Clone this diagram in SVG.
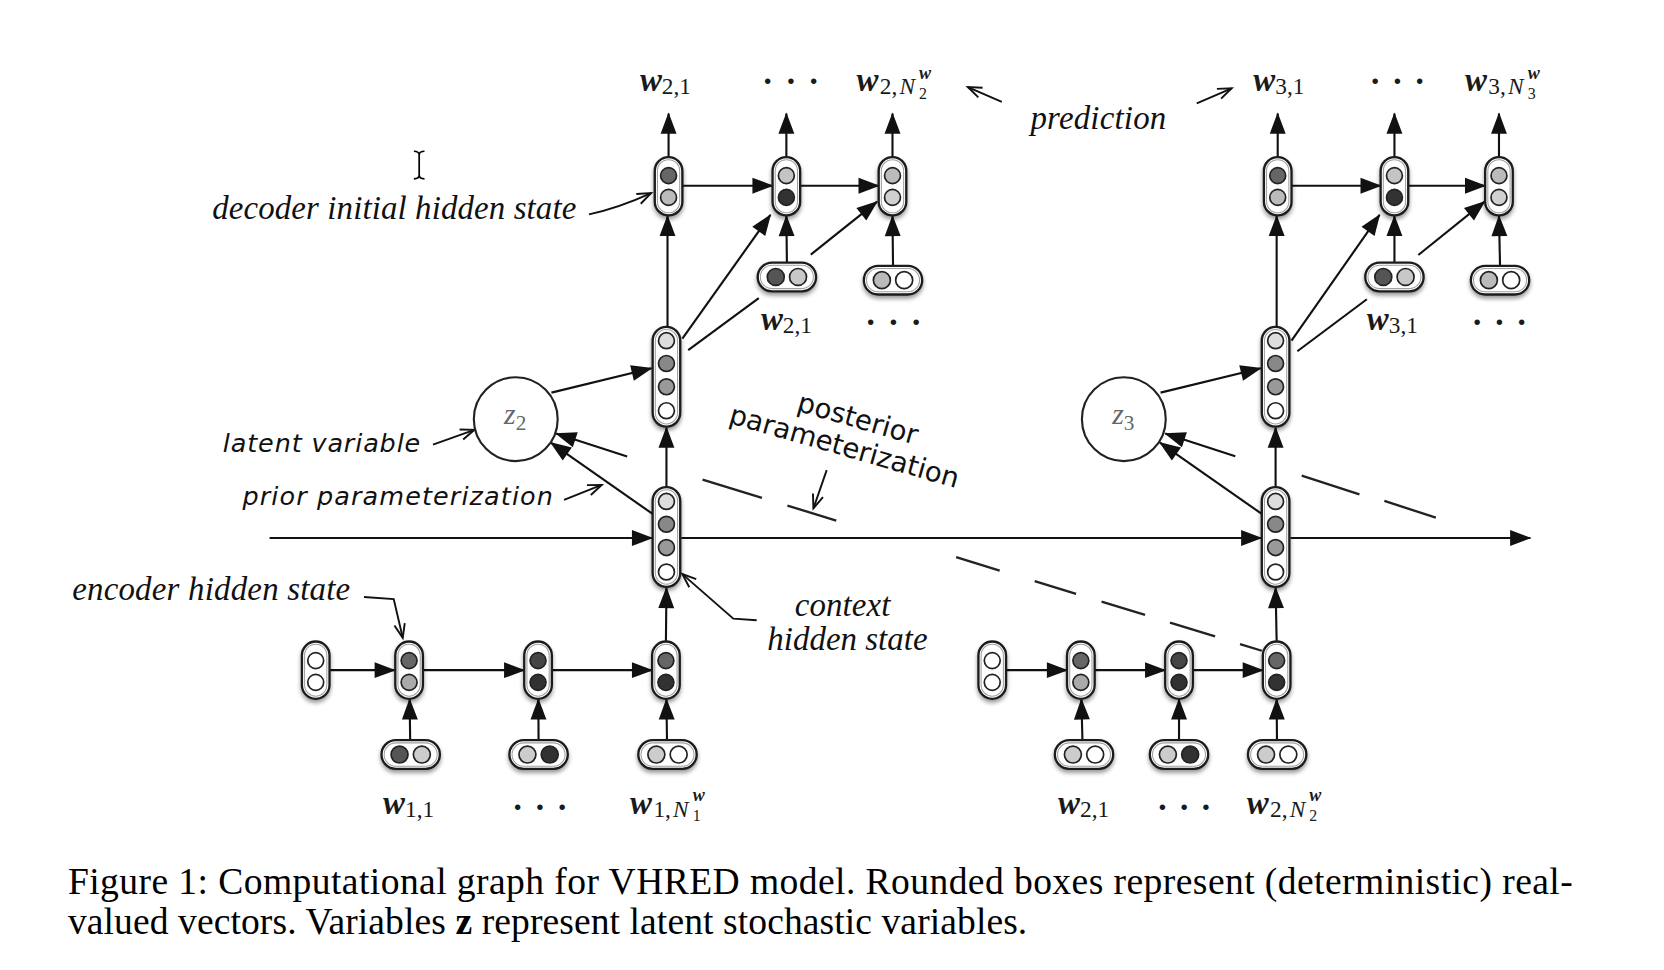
<svg xmlns="http://www.w3.org/2000/svg" width="1664" height="970" viewBox="0 0 1664 970">
<defs>
<style>
.a{stroke:#111;stroke-width:2;fill:none;marker-end:url(#ah)}
.l{stroke:#111;stroke-width:2;fill:none}
.d{stroke:#222;stroke-width:2.2;fill:none}
.o{stroke:#111;stroke-width:1.8;fill:none;marker-end:url(#oh)}
.nb{fill:#fff;stroke:#1c1c1c;stroke-width:2.2}
.ni{fill:none;stroke:#a0a0a0;stroke-width:1}
.nc{stroke:#222;stroke-width:1.6}
.zc{fill:#fff;stroke:#222;stroke-width:2}
.it{font-family:"Liberation Serif",serif;font-style:italic;font-size:31px;fill:#111}
.sa{font-family:"DejaVu Sans",sans-serif;font-style:oblique;font-size:24px;fill:#111}
.sp{font-family:"DejaVu Sans",sans-serif;font-size:26px;fill:#111}
.mw{font-family:"Liberation Serif",serif;font-style:italic;font-weight:bold;font-size:31px}
.ms{font-family:"Liberation Serif",serif;font-size:22px}
.mi{font-family:"Liberation Serif",serif;font-style:italic;font-size:22px}
.mx{font-family:"Liberation Serif",serif;font-style:italic;font-weight:bold;font-size:17px}
.my{font-family:"Liberation Serif",serif;font-size:15px}
.m{fill:#1a1a1a}
.dots{font-family:"Liberation Serif",serif;font-weight:bold;font-size:32px;fill:#1a1a1a}
.z{font-family:"Liberation Serif",serif;font-style:italic;font-size:28px;fill:#666}
.zs{font-family:"Liberation Serif",serif;font-style:normal;font-size:20px}
.cap{font-family:"Liberation Serif",serif;font-size:35.4px;fill:#000}
</style>
<marker id="ah" markerUnits="userSpaceOnUse" markerWidth="20" markerHeight="15" refX="19" refY="7.5" orient="auto" overflow="visible"><path d="M0,0 L20,7.5 L0,15 z" fill="#111"/></marker>
<marker id="oh" markerUnits="userSpaceOnUse" markerWidth="14" markerHeight="10" refX="13" refY="5" orient="auto" overflow="visible"><path d="M0,0 L13,5 L0,10" fill="none" stroke="#111" stroke-width="1.8"/></marker>
<filter id="sh" x="-60%" y="-30%" width="220%" height="170%"><feGaussianBlur in="SourceAlpha" stdDeviation="1.8"/><feOffset dy="2.5"/><feComponentTransfer><feFuncA type="linear" slope="0.4"/></feComponentTransfer><feMerge><feMergeNode/><feMergeNode in="SourceGraphic"/></feMerge></filter>
</defs>
<rect width="1664" height="970" fill="#fff"/>
<g transform="scale(1.061224)">

<g id="connectors">
<!-- decoder utterance 2 -->
<line class="a" x1="630" y1="148" x2="630" y2="107"/>
<line class="a" x1="741" y1="148" x2="741" y2="107"/>
<line class="a" x1="841" y1="148" x2="841" y2="107"/>
<line class="a" x1="643" y1="175" x2="728" y2="175"/>
<line class="a" x1="754" y1="175" x2="828" y2="175"/>
<line class="a" x1="741.5" y1="247.5" x2="741" y2="203.5"/>
<line class="a" x1="841.5" y1="250.5" x2="841" y2="203.5"/>
<line class="a" x1="629" y1="308" x2="629" y2="203.5"/>
<line class="a" x1="643" y1="319" x2="726" y2="202.5"/>
<line class="l" x1="648.5" y1="330" x2="715" y2="281"/>
<line class="a" x1="764" y1="240" x2="826.5" y2="190"/>
<!-- decoder utterance 3 -->
<line class="a" x1="1204" y1="148" x2="1204" y2="107"/>
<line class="a" x1="1314" y1="148" x2="1314" y2="107"/>
<line class="a" x1="1412.5" y1="148" x2="1412.5" y2="107"/>
<line class="a" x1="1217" y1="175" x2="1301" y2="175"/>
<line class="a" x1="1327" y1="175" x2="1399.5" y2="175"/>
<line class="a" x1="1314" y1="247.5" x2="1314" y2="203.5"/>
<line class="a" x1="1413.5" y1="250.5" x2="1412.5" y2="203.5"/>
<line class="a" x1="1203" y1="308" x2="1203" y2="203.5"/>
<line class="a" x1="1217" y1="321" x2="1300" y2="202.5"/>
<line class="l" x1="1222.5" y1="331" x2="1288" y2="282"/>
<line class="a" x1="1336.5" y1="240.3" x2="1399" y2="190"/>
<!-- latent variables -->
<line class="a" x1="519.6" y1="370" x2="614" y2="347"/>
<line class="a" x1="616" y1="485" x2="519" y2="417"/>
<line class="a" x1="591" y1="430.2" x2="524" y2="408.5"/>
<line class="a" x1="1093.6" y1="370" x2="1188" y2="347"/>
<line class="a" x1="1190" y1="485" x2="1093" y2="417"/>
<line class="a" x1="1164" y1="430" x2="1098" y2="408.5"/>
<path class="d" d="M662,451.9 L718,469.1 M742,476.4 L788,490.5 M901,525 L942,537.6 M975,547.7 L1014,559.6 M1038,567 L1079,579.5 M1102.5,586.7 L1145,599.7 M1168.5,606.9 L1189,613.2"/>
<path class="d" d="M1226.6,448.2 L1281,465.8 M1304.5,472 L1353,487.8"/>
<!-- context level -->
<line class="a" x1="254" y1="507" x2="614.5" y2="507"/>
<line class="a" x1="642" y1="507" x2="1188.5" y2="507"/>
<line class="a" x1="1216" y1="507" x2="1442" y2="507"/>
<line class="a" x1="628" y1="459" x2="628" y2="403"/>
<line class="a" x1="1202" y1="459" x2="1202" y2="403"/>
<line class="a" x1="627.5" y1="604.5" x2="628" y2="554"/>
<line class="a" x1="1203" y1="604.5" x2="1202" y2="554"/>
<!-- encoder utterance 1 -->
<line class="a" x1="311" y1="631.5" x2="372" y2="631.5"/>
<line class="a" x1="398.5" y1="631.5" x2="494" y2="631.5"/>
<line class="a" x1="520" y1="631.5" x2="614.5" y2="631.5"/>
<line class="a" x1="386.5" y1="697.5" x2="386" y2="659"/>
<line class="a" x1="507.5" y1="697.5" x2="507.3" y2="659"/>
<line class="a" x1="628.5" y1="697.5" x2="628" y2="659"/>
<!-- encoder utterance 2 -->
<line class="a" x1="948.5" y1="631.5" x2="1005.5" y2="631.5"/>
<line class="a" x1="1031.5" y1="631.5" x2="1098" y2="631.5"/>
<line class="a" x1="1124" y1="631.5" x2="1190" y2="631.5"/>
<line class="a" x1="1020" y1="697.5" x2="1019" y2="659"/>
<line class="a" x1="1111" y1="697.5" x2="1111" y2="659"/>
<line class="a" x1="1203.3" y1="697.5" x2="1203" y2="659"/>
<!-- annotation arrows -->
<path class="o" d="M555,202 Q583,196 613.5,182"/>
<path class="o" d="M408,419 L447,405"/>
<path class="o" d="M531.5,471 L567,457"/>
<path class="o" d="M343,562.5 L371,564.5 L379.5,601"/>
<path class="o" d="M713,584.5 L691,583 L643,541"/>
<path class="o" d="M779,443 L766.5,479"/>
<path class="o" d="M944,96 L912,82"/>
<path class="o" d="M1127.7,97.4 L1160.6,83.2"/>
</g>

<!-- decoder nodes utterance 2 -->
<g id="dec2a" filter="url(#sh)"><rect class="nb" x="617" y="148" width="26" height="55" rx="13"/><rect class="ni" x="619.5" y="150.5" width="21" height="50" rx="10.5"/><circle class="nc" cx="630" cy="165.5" r="7.5" fill="#666"/><circle class="nc" cx="630" cy="186" r="7.5" fill="#bbb"/></g>
<g id="dec2b" filter="url(#sh)"><rect class="nb" x="728" y="148" width="26" height="55" rx="13"/><rect class="ni" x="730.5" y="150.5" width="21" height="50" rx="10.5"/><circle class="nc" cx="741" cy="165.5" r="7.5" fill="#c4c4c4"/><circle class="nc" cx="741" cy="186" r="7.5" fill="#333"/></g>
<g id="dec2c" filter="url(#sh)"><rect class="nb" x="828" y="148" width="26" height="55" rx="13"/><rect class="ni" x="830.5" y="150.5" width="21" height="50" rx="10.5"/><circle class="nc" cx="841" cy="165.5" r="7.5" fill="#bbb"/><circle class="nc" cx="841" cy="186" r="7.5" fill="#d0d0d0"/></g>
<g id="in2b" filter="url(#sh)"><rect class="nb" x="714" y="247.5" width="55" height="27" rx="13.5"/><rect class="ni" x="716.5" y="250" width="50" height="22" rx="11"/><circle class="nc" cx="731" cy="261" r="8" fill="#555"/><circle class="nc" cx="752" cy="261" r="8" fill="#c8c8c8"/></g>
<g id="in2c" filter="url(#sh)"><rect class="nb" x="814" y="250.5" width="55" height="27" rx="13.5"/><rect class="ni" x="816.5" y="253" width="50" height="22" rx="11"/><circle class="nc" cx="831" cy="264" r="8" fill="#bbb"/><circle class="nc" cx="852" cy="264" r="8" fill="#fff"/></g>

<!-- decoder nodes utterance 3 -->
<g id="dec3a" filter="url(#sh)"><rect class="nb" x="1191" y="148" width="26" height="55" rx="13"/><rect class="ni" x="1193.5" y="150.5" width="21" height="50" rx="10.5"/><circle class="nc" cx="1204" cy="165.5" r="7.5" fill="#666"/><circle class="nc" cx="1204" cy="186" r="7.5" fill="#bbb"/></g>
<g id="dec3b" filter="url(#sh)"><rect class="nb" x="1301" y="148" width="26" height="55" rx="13"/><rect class="ni" x="1303.5" y="150.5" width="21" height="50" rx="10.5"/><circle class="nc" cx="1314" cy="165.5" r="7.5" fill="#c4c4c4"/><circle class="nc" cx="1314" cy="186" r="7.5" fill="#333"/></g>
<g id="dec3c" filter="url(#sh)"><rect class="nb" x="1399.5" y="148" width="26" height="55" rx="13"/><rect class="ni" x="1402" y="150.5" width="21" height="50" rx="10.5"/><circle class="nc" cx="1412.5" cy="165.5" r="7.5" fill="#bbb"/><circle class="nc" cx="1412.5" cy="186" r="7.5" fill="#d0d0d0"/></g>
<g id="in3b" filter="url(#sh)"><rect class="nb" x="1286.5" y="247.5" width="55" height="27" rx="13.5"/><rect class="ni" x="1289" y="250" width="50" height="22" rx="11"/><circle class="nc" cx="1303.5" cy="261" r="8" fill="#555"/><circle class="nc" cx="1324.5" cy="261" r="8" fill="#c8c8c8"/></g>
<g id="in3c" filter="url(#sh)"><rect class="nb" x="1386" y="250.5" width="55" height="27" rx="13.5"/><rect class="ni" x="1388.5" y="253" width="50" height="22" rx="11"/><circle class="nc" cx="1403" cy="264" r="8" fill="#bbb"/><circle class="nc" cx="1424" cy="264" r="8" fill="#fff"/></g>

<!-- decoder input (context + z) nodes -->
<g id="up2" filter="url(#sh)"><rect class="nb" x="615" y="308" width="26" height="94" rx="13"/><rect class="ni" x="617.5" y="310.5" width="21" height="89" rx="10.5"/><circle class="nc" cx="628" cy="321" r="7.5" fill="#ddd"/><circle class="nc" cx="628" cy="342.5" r="7.5" fill="#888"/><circle class="nc" cx="628" cy="364.5" r="7.5" fill="#999"/><circle class="nc" cx="628" cy="387" r="7.5" fill="#fff"/></g>
<g id="up3" filter="url(#sh)"><rect class="nb" x="1189" y="308" width="26" height="94" rx="13"/><rect class="ni" x="1191.5" y="310.5" width="21" height="89" rx="10.5"/><circle class="nc" cx="1202" cy="321" r="7.5" fill="#ddd"/><circle class="nc" cx="1202" cy="342.5" r="7.5" fill="#888"/><circle class="nc" cx="1202" cy="364.5" r="7.5" fill="#999"/><circle class="nc" cx="1202" cy="387" r="7.5" fill="#fff"/></g>

<!-- context nodes -->
<g id="ctx2" filter="url(#sh)"><rect class="nb" x="615" y="459" width="26" height="94" rx="13"/><rect class="ni" x="617.5" y="461.5" width="21" height="89" rx="10.5"/><circle class="nc" cx="628" cy="472.5" r="7.5" fill="#ddd"/><circle class="nc" cx="628" cy="494" r="7.5" fill="#888"/><circle class="nc" cx="628" cy="516" r="7.5" fill="#999"/><circle class="nc" cx="628" cy="539" r="7.5" fill="#fff"/></g>
<g id="ctx3" filter="url(#sh)"><rect class="nb" x="1189" y="459" width="26" height="94" rx="13"/><rect class="ni" x="1191.5" y="461.5" width="21" height="89" rx="10.5"/><circle class="nc" cx="1202" cy="472.5" r="7.5" fill="#ddd"/><circle class="nc" cx="1202" cy="494" r="7.5" fill="#888"/><circle class="nc" cx="1202" cy="516" r="7.5" fill="#999"/><circle class="nc" cx="1202" cy="539" r="7.5" fill="#fff"/></g>

<!-- latent variables -->
<g id="z2"><circle class="zc" cx="486" cy="395" r="39.5"/><text class="z" x="475" y="400">z<tspan class="zs" dy="5">2</tspan></text></g>
<g id="z3"><circle class="zc" cx="1059" cy="395" r="39.5"/><text class="z" x="1048" y="400">z<tspan class="zs" dy="5">3</tspan></text></g>

<!-- encoder utterance 1 -->
<g id="enc1_0" filter="url(#sh)"><rect class="nb" x="284.5" y="604.5" width="26" height="54" rx="13"/><rect class="ni" x="287" y="607" width="21" height="49" rx="10.5"/><circle class="nc" cx="297.5" cy="622.5" r="7.5" fill="#fff"/><circle class="nc" cx="297.5" cy="643" r="7.5" fill="#fff"/></g>
<g id="enc1_1" filter="url(#sh)"><rect class="nb" x="372.5" y="604.5" width="26" height="54" rx="13"/><rect class="ni" x="375" y="607" width="21" height="49" rx="10.5"/><circle class="nc" cx="385.5" cy="622.5" r="7.5" fill="#666"/><circle class="nc" cx="385.5" cy="643" r="7.5" fill="#aaa"/></g>
<g id="enc1_2" filter="url(#sh)"><rect class="nb" x="494" y="604.5" width="26" height="54" rx="13"/><rect class="ni" x="496.5" y="607" width="21" height="49" rx="10.5"/><circle class="nc" cx="507" cy="622.5" r="7.5" fill="#444"/><circle class="nc" cx="507" cy="643" r="7.5" fill="#333"/></g>
<g id="enc1_3" filter="url(#sh)"><rect class="nb" x="614.5" y="604.5" width="26" height="54" rx="13"/><rect class="ni" x="617" y="607" width="21" height="49" rx="10.5"/><circle class="nc" cx="627.5" cy="622.5" r="7.5" fill="#666"/><circle class="nc" cx="627.5" cy="643" r="7.5" fill="#333"/></g>
<g id="word1_1" filter="url(#sh)"><rect class="nb" x="359.5" y="697.5" width="55" height="27" rx="13.5"/><rect class="ni" x="362" y="700" width="50" height="22" rx="11"/><circle class="nc" cx="376.5" cy="711" r="8" fill="#555"/><circle class="nc" cx="397.5" cy="711" r="8" fill="#ccc"/></g>
<g id="word1_2" filter="url(#sh)"><rect class="nb" x="480" y="697.5" width="55" height="27" rx="13.5"/><rect class="ni" x="482.5" y="700" width="50" height="22" rx="11"/><circle class="nc" cx="497" cy="711" r="8" fill="#ccc"/><circle class="nc" cx="518" cy="711" r="8" fill="#333"/></g>
<g id="word1_3" filter="url(#sh)"><rect class="nb" x="601.5" y="697.5" width="55" height="27" rx="13.5"/><rect class="ni" x="604" y="700" width="50" height="22" rx="11"/><circle class="nc" cx="618.5" cy="711" r="8" fill="#ccc"/><circle class="nc" cx="639.5" cy="711" r="8" fill="#fff"/></g>

<!-- encoder utterance 2 -->
<g id="enc2_0" filter="url(#sh)"><rect class="nb" x="922" y="604.5" width="26" height="54" rx="13"/><rect class="ni" x="924.5" y="607" width="21" height="49" rx="10.5"/><circle class="nc" cx="935" cy="622.5" r="7.5" fill="#fff"/><circle class="nc" cx="935" cy="643" r="7.5" fill="#fff"/></g>
<g id="enc2_1" filter="url(#sh)"><rect class="nb" x="1005.5" y="604.5" width="26" height="54" rx="13"/><rect class="ni" x="1008" y="607" width="21" height="49" rx="10.5"/><circle class="nc" cx="1018.5" cy="622.5" r="7.5" fill="#666"/><circle class="nc" cx="1018.5" cy="643" r="7.5" fill="#aaa"/></g>
<g id="enc2_2" filter="url(#sh)"><rect class="nb" x="1098" y="604.5" width="26" height="54" rx="13"/><rect class="ni" x="1100.5" y="607" width="21" height="49" rx="10.5"/><circle class="nc" cx="1111" cy="622.5" r="7.5" fill="#444"/><circle class="nc" cx="1111" cy="643" r="7.5" fill="#333"/></g>
<g id="enc2_3" filter="url(#sh)"><rect class="nb" x="1190" y="604.5" width="26" height="54" rx="13"/><rect class="ni" x="1192.5" y="607" width="21" height="49" rx="10.5"/><circle class="nc" cx="1203" cy="622.5" r="7.5" fill="#666"/><circle class="nc" cx="1203" cy="643" r="7.5" fill="#333"/></g>
<g id="word2_1" filter="url(#sh)"><rect class="nb" x="994" y="697.5" width="55" height="27" rx="13.5"/><rect class="ni" x="996.5" y="700" width="50" height="22" rx="11"/><circle class="nc" cx="1011" cy="711" r="8" fill="#ccc"/><circle class="nc" cx="1032" cy="711" r="8" fill="#fff"/></g>
<g id="word2_2" filter="url(#sh)"><rect class="nb" x="1083.5" y="697.5" width="55" height="27" rx="13.5"/><rect class="ni" x="1086" y="700" width="50" height="22" rx="11"/><circle class="nc" cx="1100.5" cy="711" r="8" fill="#ccc"/><circle class="nc" cx="1121.5" cy="711" r="8" fill="#333"/></g>
<g id="word2_3" filter="url(#sh)"><rect class="nb" x="1176" y="697.5" width="55" height="27" rx="13.5"/><rect class="ni" x="1178.5" y="700" width="50" height="22" rx="11"/><circle class="nc" cx="1193" cy="711" r="8" fill="#ccc"/><circle class="nc" cx="1214" cy="711" r="8" fill="#fff"/></g>

<!-- word labels -->
<g id="labels" class="m">
<text x="603" y="86"><tspan class="mw">w</tspan><tspan class="ms" dy="3">2,1</tspan></text>
<text class="dots" x="718 740 761.5" y="87">···</text>
<text x="807" y="86"><tspan class="mw">w</tspan><tspan class="ms" x="829" dy="3">2,</tspan><tspan class="mi" x="847.5">N</tspan><tspan class="mx" x="866" dy="-15">w</tspan><tspan class="my" x="866" dy="19">2</tspan></text>
<text x="1181" y="86"><tspan class="mw">w</tspan><tspan class="ms" dy="3">3,1</tspan></text>
<text class="dots" x="1290.5 1311.5 1332.5" y="87">···</text>
<text x="1380.5" y="86"><tspan class="mw">w</tspan><tspan class="ms" x="1402.5" dy="3">3,</tspan><tspan class="mi" x="1421">N</tspan><tspan class="mx" x="1439.5" dy="-15">w</tspan><tspan class="my" x="1439.5" dy="19">3</tspan></text>

<text x="717" y="311"><tspan class="mw">w</tspan><tspan class="ms" dy="3">2,1</tspan></text>
<text class="dots" x="815 836.5 858" y="314">···</text>
<text x="1288" y="311"><tspan class="mw">w</tspan><tspan class="ms" dy="3">3,1</tspan></text>
<text class="dots" x="1386.5 1407.5 1428.5" y="314">···</text>

<text x="361" y="767"><tspan class="mw">w</tspan><tspan class="ms" dy="3">1,1</tspan></text>
<text class="dots" x="482.5 503.5 524.5" y="770.5">···</text>
<text x="593.7" y="767"><tspan class="mw">w</tspan><tspan class="ms" x="615.7" dy="3">1,</tspan><tspan class="mi" x="634.2">N</tspan><tspan class="mx" x="652.7" dy="-15">w</tspan><tspan class="my" x="652.7" dy="19">1</tspan></text>
<text x="997" y="767"><tspan class="mw">w</tspan><tspan class="ms" dy="3">2,1</tspan></text>
<text class="dots" x="1090 1110.5 1131" y="770.5">···</text>
<text x="1174.8" y="767"><tspan class="mw">w</tspan><tspan class="ms" x="1196.8" dy="3">2,</tspan><tspan class="mi" x="1215.3">N</tspan><tspan class="mx" x="1233.8" dy="-15">w</tspan><tspan class="my" x="1233.8" dy="19">2</tspan></text>
</g>

<!-- annotations -->
<g id="annotations">
<text class="it" x="200" y="206.5" textLength="343">decoder initial hidden state</text>
<text class="it" x="971" y="121.8" textLength="128">prediction</text>
<text class="sa" x="210" y="425.6" textLength="186">latent variable</text>
<text class="sa" x="228.5" y="476" textLength="292.5">prior parameterization</text>
<g transform="translate(806,403) rotate(16)">
<text class="sp" x="0" y="0" text-anchor="middle">posterior</text>
<text class="sp" x="-5" y="28.6" text-anchor="middle">parameterization</text>
</g>
<text class="it" x="68" y="565" textLength="262">encoder hidden state</text>
<text class="it" x="749" y="580" textLength="90">context</text>
<text class="it" x="723" y="612.5" textLength="151">hidden state</text>
</g>

<!-- text cursor artifact -->
<path d="M390,142.5 C393,142.5 395,143.5 395,146 L395,165 C395,167.5 393,168.5 390,168.5 M400,142.5 C397,142.5 395,143.5 395,146 M395,165 C395,167.5 397,168.5 400,168.5" stroke="#000" stroke-width="1.6" fill="none"/>

<!-- caption -->
<text class="cap" x="64" y="842" textLength="1418">Figure 1: Computational graph for VHRED model. Rounded boxes represent (deterministic) real-</text>
<text class="cap" x="64" y="880" textLength="904">valued vectors. Variables <tspan font-weight="bold">z</tspan> represent latent stochastic variables.</text>
</g>
</svg>
